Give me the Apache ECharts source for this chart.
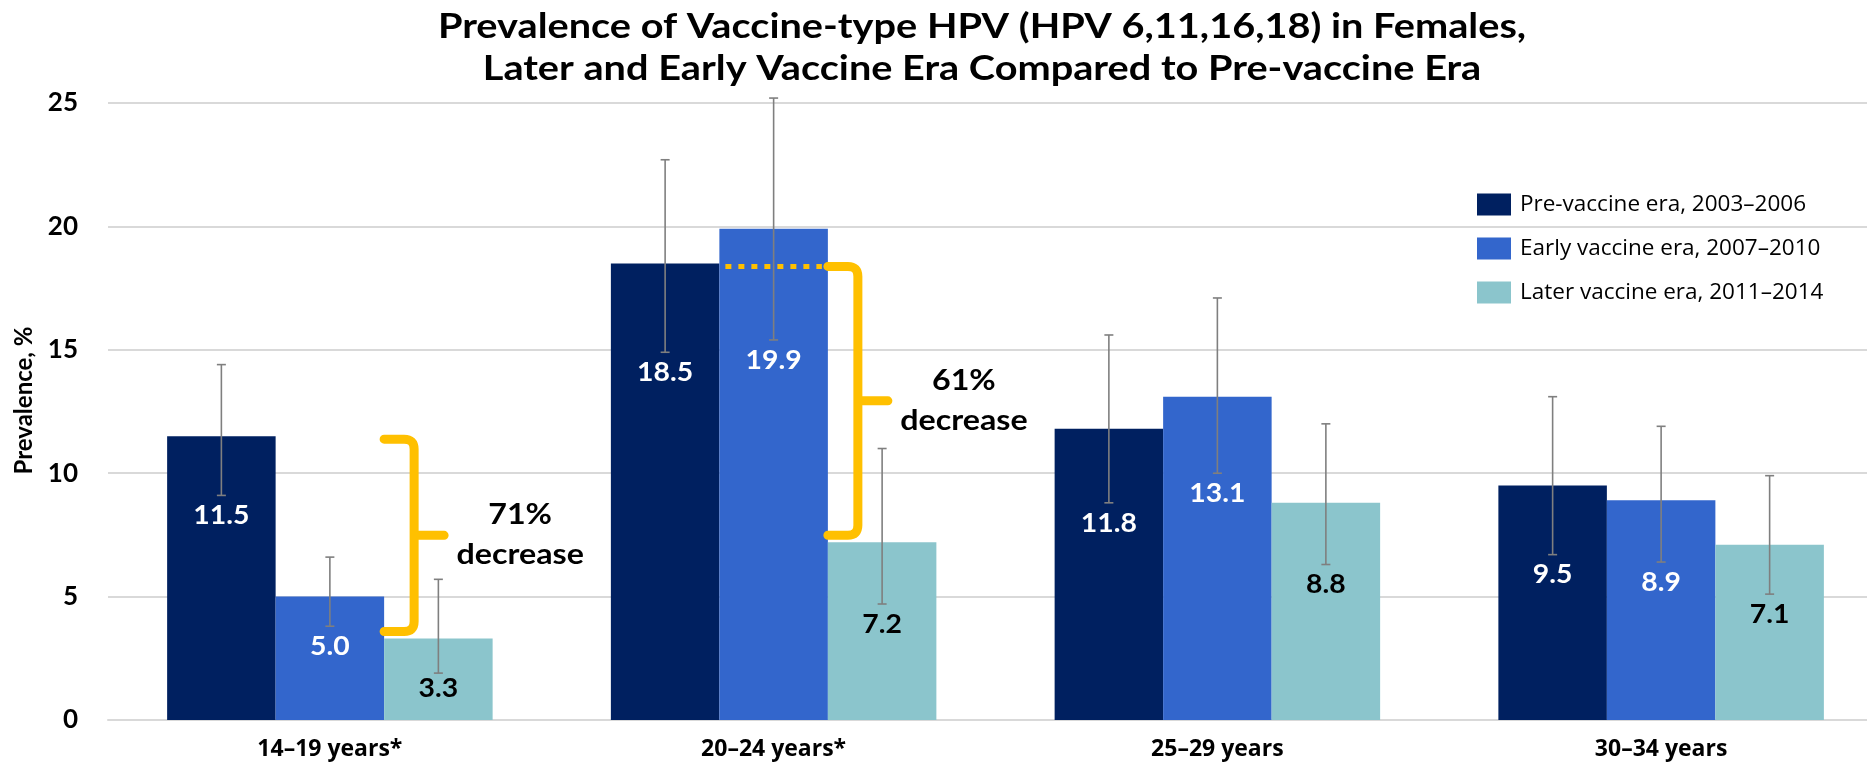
<!DOCTYPE html>
<html>
<head>
<meta charset="utf-8">
<title>Prevalence of Vaccine-type HPV in Females</title>
<script src="https://cdn.jsdelivr.net/npm/echarts@6/dist/echarts.min.js"></script>
<style>
  html, body { margin: 0; padding: 0; background: #ffffff; }
  #chart { width: 1867px; height: 767px; }
</style>
</head>
<body>
<div id="chart"></div>
<script>
// ---- data ----
const categories = ['14–19 years*', '20–24 years*', '25–29 years', '30–34 years'];
const eraNames = ['Pre-vaccine era, 2003–2006', 'Early vaccine era, 2007–2010', 'Later vaccine era, 2011–2014'];
const preVaccine = [11.5, 18.5, 11.8, 9.5];
const earlyVaccine = [5.0, 19.9, 13.1, 8.9];
const laterVaccine = [3.3, 7.2, 8.8, 7.1];
// 95% confidence intervals [low, high]
const preCI = [[9.1, 14.4], [14.9, 22.7], [8.8, 15.6], [6.7, 13.1]];
const earlyCI = [[3.8, 6.6], [15.4, 25.2], [10.0, 17.1], [6.4, 11.9]];
const laterCI = [[1.9, 5.7], [4.7, 11.0], [6.3, 12.0], [5.1, 9.9]];
const yTicks = [0, 5, 10, 15, 20, 25];
// age groups with a significant drop from pre-vaccine to later era
const decreaseGroups = [0, 1];
const titleLines = [
  'Prevalence of Vaccine-type HPV (HPV 6,11,16,18) in Females,',
  'Later and Early Vaccine Era Compared to Pre-vaccine Era'
];

// ---- styling ----
const FONT = 'Lato, "Open Sans", sans-serif';
const FONT_WIDE = '"Open Sans", Lato, sans-serif';
const COLORS = ['#002060', '#3366CC', '#8BC5CC'];
const LABEL_COLORS = ['#FFFFFF', '#FFFFFF', '#000000'];
const ACCENT = '#FFC000';
const WHISKER = '#7F7F7F';
const GRID_LEFT = 108;
const CATEGORY_W = 443.75;
const BAR_W = 108.5;

const values = [preVaccine, earlyVaccine, laterVaccine];
const intervals = [preCI, earlyCI, laterCI];

function barSeries(k) {
  return {
    type: 'bar',
    name: eraNames[k],
    data: values[k],
    barWidth: BAR_W,
    barGap: '0%',
    itemStyle: { color: COLORS[k] },
    silent: true,
    z: 2
  };
}

// whiskers plus the value label sitting just under the lower whisker
function errorSeries(k) {
  return {
    type: 'custom',
    data: categories.map((_, i) => [i, intervals[k][i][0], intervals[k][i][1], values[k][i]]),
    encode: { x: 0, y: [1, 2] },
    silent: true,
    z: 3,
    renderItem(params, api) {
      const c = api.value(0);
      const lo = api.value(1), hi = api.value(2), v = api.value(3);
      const off = (k - 1) * BAR_W;
      const pHi = api.coord([c, hi]);
      const pLo = api.coord([c, lo]);
      const pBase = api.coord([c, 0]);
      const x = pHi[0] + off;
      const cap = 4.5;
      const ls = { stroke: WHISKER, lineWidth: 1.6 };
      const labelY = Math.min(pLo[1] + 20, pBase[1] - 32);
      return {
        type: 'group',
        children: [
          { type: 'line', shape: { x1: x, y1: pHi[1], x2: x, y2: pLo[1] }, style: ls },
          { type: 'line', shape: { x1: x - cap, y1: pHi[1], x2: x + cap, y2: pHi[1] }, style: ls },
          { type: 'line', shape: { x1: x - cap, y1: pLo[1], x2: x + cap, y2: pLo[1] }, style: ls },
          {
            type: 'text', x: x, y: labelY, scaleX: 1.05,
            style: {
              text: v.toFixed(1), fill: LABEL_COLORS[k],
              fontFamily: FONT, fontWeight: 'bold', fontSize: 27,
              align: 'center', verticalAlign: 'middle'
            }
          }
        ]
      };
    }
  };
}

// curly bracket from the pre-vaccine level down to the later-era level
const bracketSeries = {
  type: 'custom',
  data: decreaseGroups.map(i => [i, preVaccine[i], laterVaccine[i], earlyVaccine[i]]),
  encode: { x: 0, y: [1, 2] },
  silent: true,
  z: 4,
  renderItem(params, api) {
    const c = api.value(0);
    const from = api.value(1), to = api.value(2), mid = api.value(3);
    const pFrom = api.coord([c, from]);
    const pTo = api.coord([c, to]);
    const x0 = pFrom[0] + BAR_W / 2;
    const x1 = x0 + 30;
    const x2 = x1 + 30;
    const yt = pFrom[1] + 3;
    const yb = pTo[1] - 7;
    const ym = (yt + yb) / 2;
    const r = 10;
    const d = 'M' + x0 + ' ' + yt + ' L' + (x1 - r) + ' ' + yt +
      ' Q' + x1 + ' ' + yt + ' ' + x1 + ' ' + (yt + r) +
      ' L' + x1 + ' ' + (yb - r) +
      ' Q' + x1 + ' ' + yb + ' ' + (x1 - r) + ' ' + yb +
      ' L' + x0 + ' ' + yb +
      ' M' + x1 + ' ' + ym + ' L' + x2 + ' ' + ym;
    const pct = Math.round((from - to) / from * 100);
    const children = [
      {
        type: 'path', shape: { pathData: d },
        style: { stroke: ACCENT, lineWidth: 9, fill: null, lineCap: 'round', lineJoin: 'round' }
      },
      {
        type: 'text', x: x2 + 76, y: ym, scaleX: 1.15,
        style: {
          text: pct + '%\ndecrease', fill: '#000000',
          fontFamily: FONT, fontWeight: 'bold', fontSize: 28, lineHeight: 40,
          align: 'center', verticalAlign: 'middle'
        }
      }
    ];
    if (mid > from) {
      // the middle bar rises above the bracket: mark the pre-vaccine level across it
      children.push({
        type: 'line',
        shape: { x1: pFrom[0] - BAR_W / 2 + 6, y1: yt, x2: x0 - 6, y2: yt },
        style: { stroke: ACCENT, lineWidth: 5, lineDash: [6, 7] }
      });
    }
    return { type: 'group', children: children };
  }
};

const chart = echarts.init(document.getElementById('chart'), null, { renderer: 'canvas' });

chart.setOption({
  backgroundColor: '#ffffff',
  animation: false,
  graphic: [
    {
      type: 'text',
      x: 982,
      y: 6,
      scaleX: 1.167,
      silent: true,
      style: {
        text: titleLines.join('\n'),
        fontFamily: FONT, fontWeight: 'bold', fontSize: 34, lineHeight: 42,
        fill: '#000000', align: 'center', verticalAlign: 'top'
      }
    }
  ],
  legend: {
    data: eraNames,
    orient: 'vertical',
    left: 1477,
    top: 193,
    padding: 0,
    itemWidth: 34,
    itemHeight: 22,
    itemGap: 21,
    icon: 'rect',
    selectedMode: false,
    textStyle: { fontFamily: FONT_WIDE, fontSize: 22.5, color: '#000000', padding: [2, 0, 0, 4] }
  },
  grid: {
    left: GRID_LEFT,
    width: CATEGORY_W * categories.length,
    top: 103,
    bottom: 47,
    containLabel: false,
    outerBoundsMode: 'none'
  },
  xAxis: {
    type: 'category',
    data: categories,
    axisLine: { show: true, lineStyle: { color: '#D9D9D9', width: 2 } },
    axisTick: { show: false },
    axisLabel: { fontFamily: FONT_WIDE, fontWeight: 'bold', fontSize: 23, color: '#000000', margin: 18 }
  },
  yAxis: {
    type: 'value',
    min: yTicks[0],
    max: yTicks[yTicks.length - 1],
    interval: yTicks[1] - yTicks[0],
    name: 'Prevalence, %',
    nameLocation: 'middle',
    nameGap: 72,
    nameTextStyle: { fontFamily: FONT, fontWeight: 'bold', fontSize: 24, color: '#000000', padding: [0, 0, 0, 22] },
    axisLine: { show: false },
    axisTick: { show: false },
    axisLabel: { fontFamily: FONT, fontWeight: 'bold', fontSize: 26, color: '#000000', margin: 30 },
    splitLine: { lineStyle: { color: '#D9D9D9', width: 2 } }
  },
  series: [
    barSeries(0), barSeries(1), barSeries(2),
    errorSeries(0), errorSeries(1), errorSeries(2),
    bracketSeries
  ]
});
</script>
</body>
</html>
